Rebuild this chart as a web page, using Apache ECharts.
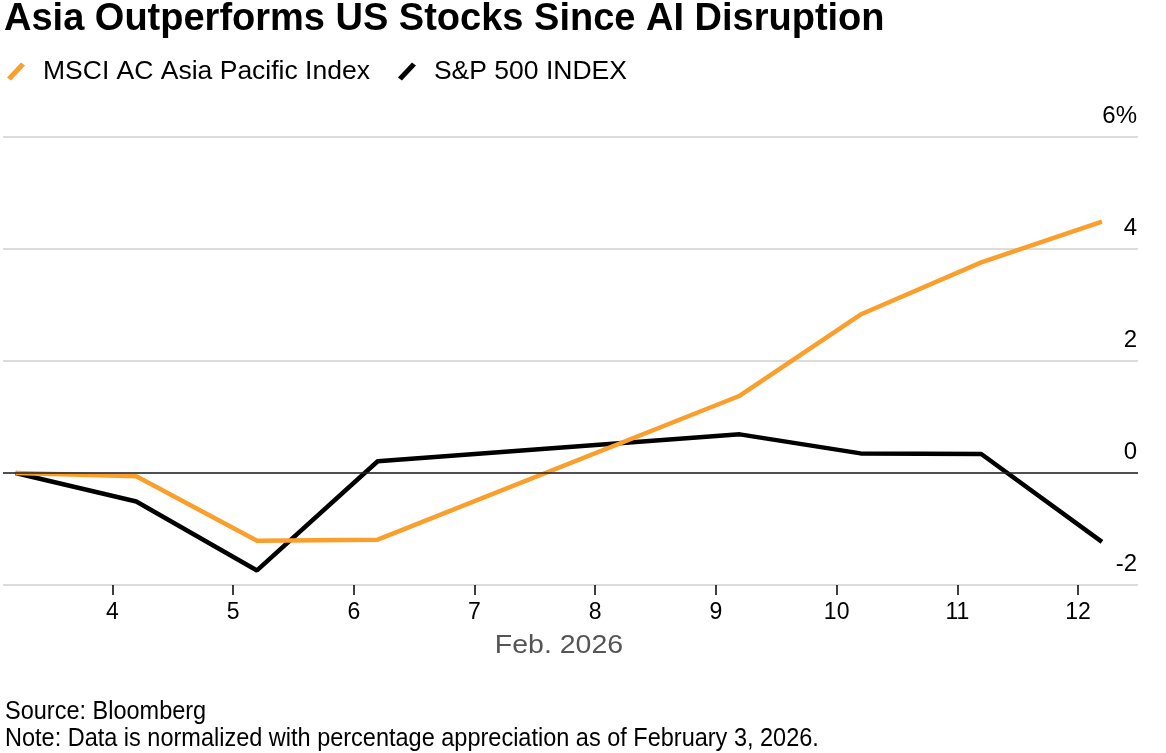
<!DOCTYPE html>
<html>
<head>
<meta charset="utf-8">
<script src="https://cdn.jsdelivr.net/npm/echarts@6/dist/echarts.min.js"></script>
<style>
  html, body { margin: 0; padding: 0; background: #fff; }
  #chart { width: 1166px; height: 753px; }
</style>
</head>
<body>
<div id="chart"></div>
<script>
// ---- Data ----
const dates = ['2026-02-03', '2026-02-04', '2026-02-05', '2026-02-06', '2026-02-09', '2026-02-10', '2026-02-11', '2026-02-12'];
const msciAsiaPacific = [0, -0.06, -1.21, -1.19, 1.38, 2.83, 3.76, 4.49];
const sp500 = [0, -0.51, -1.74, 0.21, 0.69, 0.35, 0.34, -1.23];
const seriesNames = ['MSCI AC Asia Pacific Index', 'S&P 500 INDEX'];
const yTicks = [-2, 0, 2, 4, 6];
const titleText = 'Asia Outperforms US Stocks Since AI Disruption';
const xAxisTitle = 'Feb. 2026';
const sourceText = 'Source: Bloomberg';
const noteText = 'Note: Data is normalized with percentage appreciation as of February 3, 2026.';

// observation time of day (UTC) used for each daily close
const obsTime = 'T04:45:00Z';
const toTs = d => Date.parse(d + obsTime);
const pairs = vals => dates.map((d, i) => [toTs(d), vals[i]]);

const ORANGE = '#fa9e2c';
const BLACK = '#000000';
const slashIcon = 'path://M0,15 L14,0 L18,3 L4,18 Z';
const FONT = 'Liberation Sans, Arial, sans-serif';

const chart = echarts.init(document.getElementById('chart'), null, { renderer: 'canvas' });
const option = {
  useUTC: true,
  animation: false,
  backgroundColor: '#ffffff',
  textStyle: { fontFamily: FONT },
  grid: { left: 3, right: 28, top: 137, bottom: 168, outerBoundsMode: 'none', containLabel: false },
  legend: {
    left: 2, top: 53,
    itemWidth: 18, itemHeight: 18, itemGap: 28,
    textStyle: { fontSize: 26.5, color: '#000', padding: [0, 0, 0, 13] },
    data: [
      { name: seriesNames[0], icon: slashIcon, itemStyle: { color: ORANGE } },
      { name: seriesNames[1], icon: slashIcon, itemStyle: { color: BLACK } }
    ]
  },
  xAxis: {
    type: 'time',
    min: Date.parse('2026-02-03T02:15:00Z'),
    max: Date.parse('2026-02-12T11:55:00Z'),
    minInterval: 86400000,
    maxInterval: 86400000,
    axisLine: { show: false, onZero: false },
    axisTick: { show: true, length: 10, lineStyle: { color: '#000', width: 1.5 } },
    splitLine: { show: false },
    axisLabel: {
      fontSize: 23, color: '#000', margin: 16,
      showMinLabel: false, showMaxLabel: false,
      formatter: v => String(new Date(v).getUTCDate())
    }
  },
  yAxis: {
    type: 'value',
    position: 'right',
    min: yTicks[0], max: yTicks[yTicks.length - 1], interval: 2,
    axisLine: { show: false },
    axisTick: { show: false },
    splitLine: { show: true, lineStyle: { color: '#d0d0d0', width: 1.5 } },
    axisLabel: {
      inside: true, margin: 1,
      fontSize: 24, color: '#000',
      verticalAlign: 'bottom', padding: [0, 0, 9, 0],
      formatter: v => (v === yTicks[yTicks.length - 1] ? v + '%' : String(v))
    }
  },
  series: [
    {
      name: 'zero', type: 'line', data: [], z: 1, silent: true,
      markLine: {
        silent: true, symbol: ['none', 'none'], label: { show: false },
        lineStyle: { color: '#222', width: 1.5, type: 'solid' },
        data: [{ yAxis: 0 }]
      }
    },
    {
      name: seriesNames[1], type: 'line', data: pairs(sp500), z: 3,
      showSymbol: false, symbol: 'none',
      lineStyle: { color: BLACK, width: 4.5 }, itemStyle: { color: BLACK }
    },
    {
      name: seriesNames[0], type: 'line', data: pairs(msciAsiaPacific), z: 4,
      showSymbol: false, symbol: 'none',
      lineStyle: { color: ORANGE, width: 4.5 }, itemStyle: { color: ORANGE }
    }
  ],
  graphic: [
    { type: 'text', x: 4, y: 1, style: { text: titleText, fontFamily: FONT, fontWeight: 'bold', fontSize: 38, fill: '#000' } },
    { type: 'text', x: 559, y: 646, scaleX: 1.14, style: { text: xAxisTitle, fontFamily: FONT, fontSize: 25, fill: '#555', textAlign: 'center', textVerticalAlign: 'middle' } },
    { type: 'text', x: 5, y: 712, scaleX: 0.94, style: { text: sourceText, fontFamily: FONT, fontSize: 25, fill: '#000', textVerticalAlign: 'middle' } },
    { type: 'text', x: 5, y: 739, scaleX: 0.94, style: { text: noteText, fontFamily: FONT, fontSize: 25, fill: '#000', textVerticalAlign: 'middle' } }
  ]
};
chart.setOption(option);
</script>
</body>
</html>
